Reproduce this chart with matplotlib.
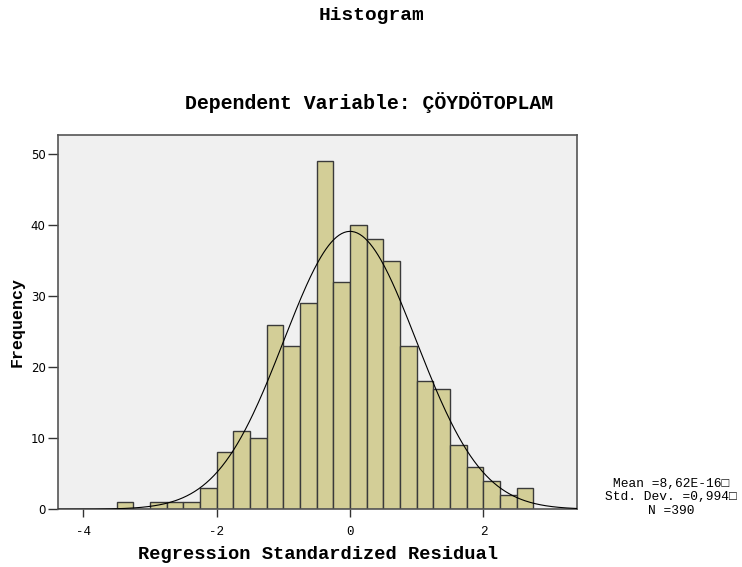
import numpy as np
import matplotlib
matplotlib.use("Agg")
import matplotlib.pyplot as plt

# 히스토그램 데이터 (bin 폭 0.25, -3.5 에서 시작)
bin_start = -3.5
bin_width = 0.25
counts = [1, 0, 1, 1, 1, 3, 8, 11, 10, 26, 23, 29, 49, 32,
          40, 38, 35, 23, 18, 17, 9, 6, 4, 2, 3]
mean = 8.62e-16
std = 0.994
n = 390
x_ticks = [-4, -2, 0, 2]
y_ticks = [0, 10, 20, 30, 40, 50]

mono = ['Liberation Mono', 'DejaVu Sans Mono']
plt.rcParams['axes.unicode_minus'] = False

fig = plt.figure(figsize=(7.42, 5.67), dpi=100)
ax = fig.add_axes([0.0782, 0.1018, 0.6995, 0.6601])
ax.set_facecolor('#F0F0F0')

lefts = bin_start + bin_width * np.arange(len(counts))
ax.bar(lefts, counts, width=bin_width, align='edge', color='#D3CE97',
       edgecolor='#3a3a3a', linewidth=1.0, zorder=2)

# 정규분포 곡선
xs = np.linspace(-4.38, 3.405, 400)
ys = n * bin_width * np.exp(-0.5 * ((xs - mean) / std) ** 2) / (std * np.sqrt(2 * np.pi))
ax.plot(xs, ys, color='black', linewidth=0.8, zorder=3)

ax.set_xlim(-4.38, 3.405)
ax.set_ylim(0, 52.7)
ax.set_xticks(x_ticks)
ax.set_yticks(y_ticks)
ax.set_xticklabels([str(t) for t in x_ticks], family=mono, fontsize=9)
ax.set_yticklabels([str(t) for t in y_ticks], family='DejaVu Sans', fontsize=8.5)
ax.tick_params(axis='x', direction='out', length=6, width=1, color='#333333', pad=6)
ax.tick_params(axis='y', direction='out', length=7, width=1, color='#333333', pad=2)
for s in ax.spines.values():
    s.set_color('#555555')
    s.set_linewidth(1.2)

ax.set_xlabel('Regression Standardized Residual', family=mono, fontsize=13.5,
              fontweight='bold')
ax.xaxis.set_label_coords(0.5, -0.122)
ax.xaxis.label.set_va('center')
ax.set_ylabel('Frequency', family=mono, fontsize=12, fontweight='bold', labelpad=4)

fig.text(0.5, 1 - 15 / 567, 'Histogram', family=mono, fontsize=14,
         fontweight='bold', ha='center', va='center')
fig.text(0.497, 1 - 103 / 567, 'Dependent Variable: ÇÖYDÖTOPLAM', family=mono,
         fontsize=14.3, fontweight='bold', ha='center', va='center')

stats = ['Mean =8,62E-16\u25a1', 'Std. Dev. =0,994\u25a1', 'N =390']
for i, line in enumerate(stats):
    fig.text(671 / 742, 1 - (484 + 13.5 * i) / 567, line, family=mono,
             fontsize=9.3, ha='center', va='center')

fig.savefig('out.png', dpi=100)
